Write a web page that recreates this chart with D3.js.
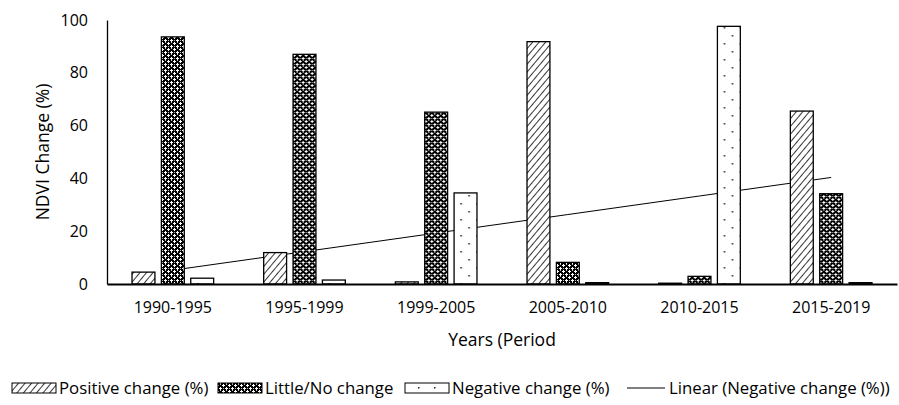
<!DOCTYPE html>
<html>
<head>
<meta charset="utf-8">
<script src="https://cdn.jsdelivr.net/npm/d3@7"></script>
<style>
  body { margin: 0; background: #fff; }
  text { font-family: "Open Sans", sans-serif; fill: #000; }
</style>
</head>
<body>
<div id="chart"></div>
<script>
// data
const periods = ["1990-1995", "1995-1999", "1999-2005", "2005-2010", "2010-2015", "2015-2019"];
const positiveChange = [4.5, 11.9, 0.8, 91.8, 0.3, 65.5];
const littleChange = [93.6, 87.0, 65.1, 8.2, 2.9, 34.2];
const negativeChange = [2.2, 1.5, 34.5, 0.5, 97.6, 0.5];
const yTicks = [0, 20, 40, 60, 80, 100];
const seriesNames = ["Positive change (%)", "Little/No change", "Negative change (%)"];
const trendName = "Linear (Negative change (%))";

const width = 899, height = 405;
const margin = {top: 20, right: 2, bottom: 121, left: 107};
const tickFont = "16px";
const legendFont = "16.8px";

const svg = d3.select("#chart").append("svg")
    .attr("width", width)
    .attr("height", height);

// patterns
const defs = svg.append("defs");
let hatch = defs.append("pattern")
    .attr("id", "pat-pos")
    .attr("patternUnits", "userSpaceOnUse")
    .attr("width", 5).attr("height", 5)
    .attr("patternTransform", "rotate(40)");
hatch.append("rect").attr("width", 5).attr("height", 5).attr("fill", "#fff");
hatch.append("line").attr("x1", 0).attr("y1", 0).attr("x2", 0).attr("y2", 5)
    .attr("stroke", "#111").attr("stroke-width", 1.7);

let check = defs.append("pattern")
    .attr("id", "pat-little")
    .attr("patternUnits", "userSpaceOnUse")
    .attr("width", 6).attr("height", 6);
check.append("rect").attr("width", 6).attr("height", 6).attr("fill", "#000");
[[0, 0], [3, 3]].forEach(function (p) {
    check.append("rect").attr("x", p[0] + 1).attr("y", p[1]).attr("width", 1).attr("height", 3).attr("fill", "#fff");
    check.append("rect").attr("x", p[0]).attr("y", p[1] + 1).attr("width", 3).attr("height", 1).attr("fill", "#fff");
});
check.append("rect").attr("x", 4).attr("y", 0).attr("width", 1).attr("height", 1).attr("fill", "#bbb");
check.append("rect").attr("x", 1).attr("y", 4).attr("width", 1).attr("height", 1).attr("fill", "#bbb");

let dots = defs.append("pattern")
    .attr("id", "pat-neg")
    .attr("patternUnits", "userSpaceOnUse")
    .attr("width", 16).attr("height", 16)
    .attr("x", 2).attr("y", 3);
dots.append("rect").attr("width", 16).attr("height", 16).attr("fill", "#fff");
dots.append("rect").attr("x", 0).attr("y", 0).attr("width", 1.5).attr("height", 1.5).attr("fill", "#222");
dots.append("rect").attr("x", 8).attr("y", 8).attr("width", 1.5).attr("height", 1.5).attr("fill", "#222");

const fills = ["url(#pat-pos)", "url(#pat-little)", "url(#pat-neg)"];

// scales
let x0 = d3.scaleBand()
    .domain(periods)
    .range([margin.left, width - margin.right])
    .padding(0);
let bw = x0.bandwidth();
let x1 = d3.scaleBand()
    .domain([0, 1, 2])
    .range([bw * 0.19, bw * 0.81])
    .paddingInner(0.22);
let y = d3.scaleLinear()
    .domain([0, 100])
    .range([height - margin.bottom, margin.top]);

// trend line (least squares on negative change), drawn behind bars
let n = negativeChange.length;
let xs = d3.range(1, n + 1);
let mx = d3.mean(xs), my = d3.mean(negativeChange);
let slope = d3.sum(xs, (v, i) => (v - mx) * (negativeChange[i] - my)) / d3.sum(xs, v => (v - mx) * (v - mx));
let icpt = my - slope * mx;
let trend = periods.map((p, i) => ({p: p, v: icpt + slope * (i + 1)}));

svg.append("path")
    .datum(trend)
    .attr("fill", "none")
    .attr("stroke", "#000")
    .attr("stroke-width", 1)
    .attr("d", d3.line()
        .x(d => x0(d.p) + bw / 2)
        .y(d => y(d.v)));

// bars
let rows = periods.map((p, i) => ({p: p, vals: [positiveChange[i], littleChange[i], negativeChange[i]]}));
let groups = svg.append("g").selectAll("g")
    .data(rows)
    .join("g")
    .attr("transform", d => "translate(" + x0(d.p) + ",0)");
groups.selectAll("rect")
    .data(d => d.vals.map((v, k) => ({k: k, v: v})))
    .join("rect")
    .attr("x", d => x1(d.k))
    .attr("y", d => y(d.v))
    .attr("width", x1.bandwidth())
    .attr("height", d => y(0) - y(d.v))
    .attr("fill", d => fills[d.k])
    .attr("stroke", "#000")
    .attr("stroke-width", 1.3);

// axes
let yAxis = svg.append("g")
    .attr("transform", "translate(" + margin.left + ",0)")
    .call(d3.axisLeft(y).tickValues(yTicks).tickSize(0).tickPadding(19));
yAxis.select(".domain").attr("stroke", "#000").attr("stroke-width", 1.3);
yAxis.selectAll("text").style("font-size", tickFont).style("font-family", "'Open Sans', sans-serif");

let xAxis = svg.append("g")
    .attr("transform", "translate(0," + y(0) + ")")
    .call(d3.axisBottom(x0).tickSize(0).tickPadding(18));
xAxis.select(".domain").attr("stroke", "#000").attr("stroke-width", 2);
xAxis.selectAll("text").style("font-size", tickFont).style("font-family", "'Open Sans', sans-serif");

// axis titles
svg.append("text")
    .attr("transform", "translate(49,152) rotate(-90)")
    .attr("text-anchor", "middle")
    .style("font-size", "17.5px")
    .text("NDVI Change (%)");
svg.append("text")
    .attr("x", 502).attr("y", 346)
    .attr("text-anchor", "middle")
    .style("font-size", "17.5px")
    .text("Years (Period");

// legend
let legendX = [12, 218, 405];
let legend = svg.append("g");
seriesNames.forEach(function (name, k) {
    legend.append("rect")
        .attr("x", legendX[k]).attr("y", 383)
        .attr("width", 44).attr("height", 10)
        .attr("fill", fills[k])
        .attr("stroke", "#000").attr("stroke-width", 1);
    legend.append("text")
        .attr("x", legendX[k] + 47).attr("y", 394)
        .style("font-size", legendFont)
        .text(name);
});
legend.append("line")
    .attr("x1", 627).attr("x2", 665)
    .attr("y1", 388).attr("y2", 388)
    .attr("stroke", "#000").attr("stroke-width", 1);
legend.append("text")
    .attr("x", 669).attr("y", 394)
    .style("font-size", legendFont)
    .text(trendName);
</script>
</body>
</html>
